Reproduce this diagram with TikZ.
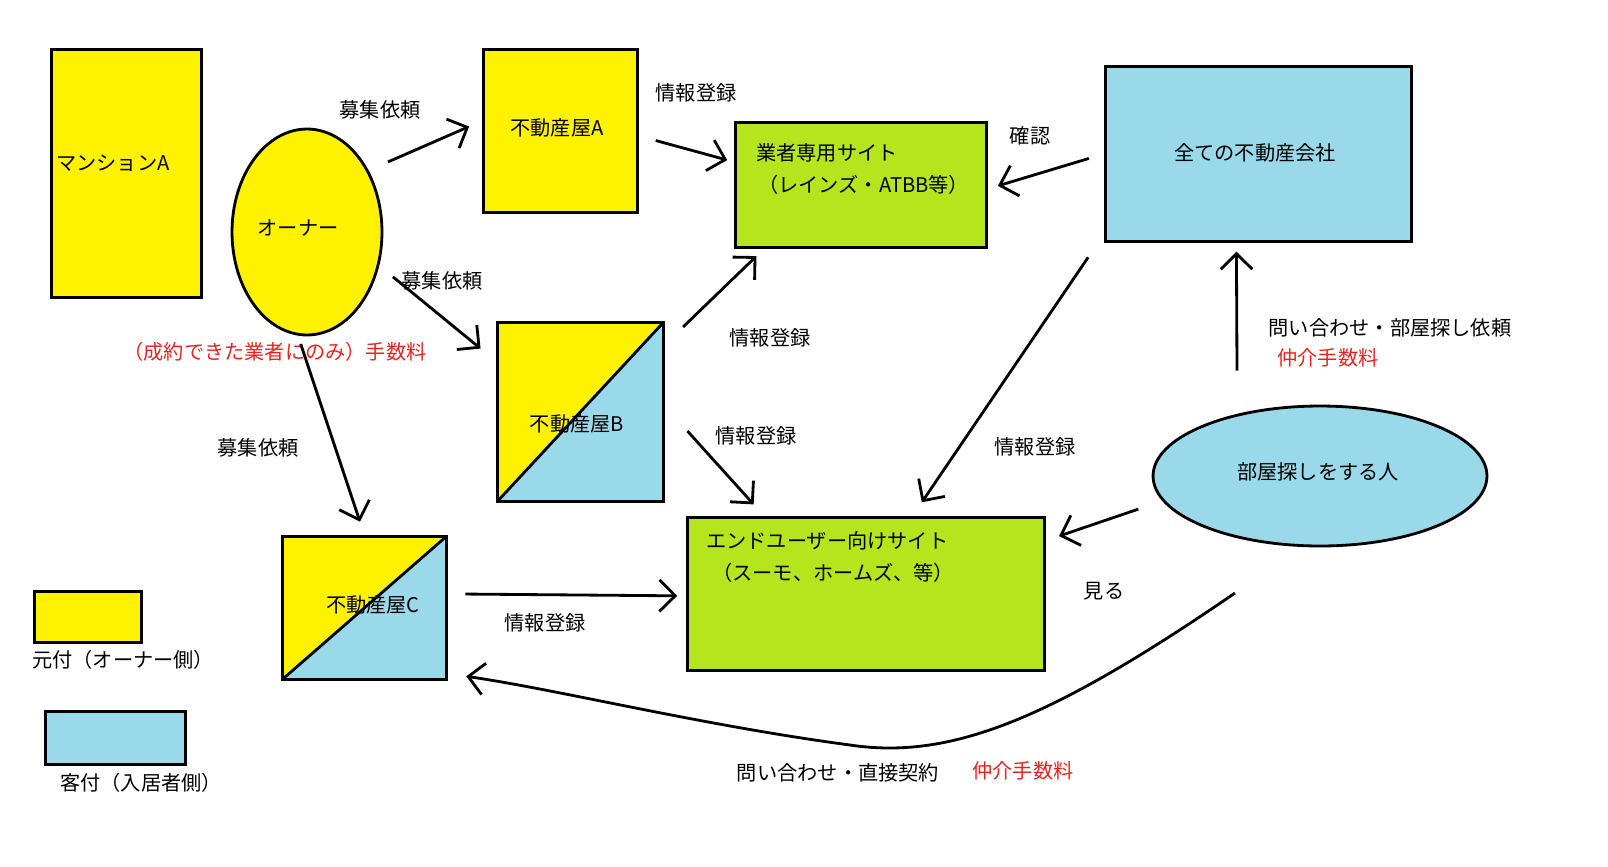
\documentclass[tikz,border=0pt]{standalone}
\usepackage{fontspec}
\setmainfont{Noto Sans CJK JP}
\usetikzlibrary{shapes.geometric, arrows.meta, positioning, calc}
\definecolor{ownyellow}{HTML}{FFF200}
\definecolor{cliblue}{HTML}{99D9EA}
\definecolor{sitegreen}{HTML}{B5E61D}
\definecolor{feered}{HTML}{E8231E}

\begin{document}
\begin{tikzpicture}[
  x=0.02cm, y=-0.02cm,
  every node/.style={font=\fontsize{11.5}{14}\selectfont},
  box/.style={
    rectangle,
    draw=black,
    line width=1.6pt,
    inner sep=0pt
  },
  dealer/.style={
    box,
    path picture={
      \fill[ownyellow] (path picture bounding box.north west) -- (path picture bounding box.north east) -- (path picture bounding box.south west) -- cycle;
      \fill[cliblue] (path picture bounding box.south east) -- (path picture bounding box.north east) -- (path picture bounding box.south west) -- cycle;
      \draw[line width=1.6pt] (path picture bounding box.south west) -- (path picture bounding box.north east);
    }
  },
  flow/.style={
    line width=1.6pt,
    -{Straight Barb[length=9pt,width=18pt,line width=1.6pt]}
  },
  fee/.style={text=feered}
]
  \useasboundingbox (0,0) rectangle (1608,866);

  % boxes
  \node[box, fill=ownyellow, minimum width=3cm, minimum height=4.96cm, anchor=north west] (mansion) at (50,48) {};
  \node[anchor=west] at (50,163) {マンションA};
  \node[box, ellipse, fill=ownyellow, minimum width=3cm, minimum height=4.12cm] (owner) at (307,232) {};
  \node at (298,228) {オーナー};
  \node[box, fill=ownyellow, minimum width=3.08cm, minimum height=3.26cm, anchor=north west] (agentA) at (482,48) {};
  \node at (557,128) {不動産屋A};
  \node[box, fill=sitegreen, minimum width=5.02cm, minimum height=2.5cm, anchor=north west] (pro) at (734,121) {};
  \node[anchor=west] at (750,153) {業者専用サイト};
  \node[anchor=west] at (752,185) {（レインズ・ATBB等）};
  \node[box, fill=cliblue, minimum width=6.12cm, minimum height=3.5cm, anchor=north west] (allco) at (1104,65) {};
  \node at (1255,153) {全ての不動産会社};
  \node[dealer, minimum width=3.32cm, minimum height=3.58cm, anchor=north west] (agentB) at (496,321) {};
  \node at (577,424) {不動産屋B};
  \node[dealer, minimum width=3.28cm, minimum height=2.86cm, anchor=north west] (agentC) at (281,535) {};
  \node at (373,605) {不動産屋C};
  \node[box, fill=sitegreen, minimum width=7.14cm, minimum height=3.06cm, anchor=north west] (enduser) at (686,516) {};
  \node[anchor=west] at (700,541) {エンドユーザー向けサイト};
  \node[anchor=west] at (706,573) {（スーモ、ホームズ、等）};
  \node[box, ellipse, fill=cliblue, minimum width=6.68cm, minimum height=2.8cm] (seeker) at (1320,476) {};
  \node at (1318,472) {部屋探しをする人};

  % legend
  \node[box, fill=ownyellow, minimum width=2.14cm, minimum height=1.02cm, anchor=north west] (lgown) at (33,590) {};
  \node[anchor=west] at (26,660) {元付（オーナー側）};
  \node[box, fill=cliblue, minimum width=2.8cm, minimum height=1.06cm, anchor=north west] (lgcli) at (44,710) {};
  \node[anchor=west] at (54,783) {客付（入居者側）};

  % connectors
  \draw[flow, shorten <=12pt, shorten >=8pt] (owner.45) -- ($(agentA.west)+(0,-10)$);
  \node at (380,110) {募集依頼};
  \draw[flow, shorten <=10pt, shorten >=4pt] ($(agentA.east)+(0,5)$) -- ($(pro.west)+(0,-23)$);
  \node at (696,93) {情報登録};
  \draw[flow, shorten <=9pt, shorten >=6pt] ($(allco.west)+(0,0)$) -- ($(pro.east)+(0,4)$);
  \node at (1030,136) {確認};
  \draw[flow, shorten <=10pt, shorten >=4pt] (owner.-25) -- ($(agentB.north west)+(-10,32)$);
  \node at (442,281) {募集依頼};
  \node[fee] at (275,352) {（成約できた業者にのみ）手数料};
  \draw[flow, shorten <=5pt, shorten >=6pt] ($(agentB.north east)+(12,12)$) -- ($(pro.south west)+(30,0)$);
  \node at (770,338) {情報登録};
  \draw[flow, shorten <=4pt, shorten >=2pt] ($(agentB.east)+(18,14)$) -- ($(enduser.north west)+(70,-9)$);
  \node at (756,436) {情報登録};
  \draw[flow, shorten <=10pt, shorten >=6pt] ($(allco.south west)+(-6,0)$) -- ($(enduser.north)+(50,-5)$);
  \node at (1035,447) {情報登録};
  \draw[flow, shorten <=5pt, shorten >=8pt] (owner.-95) -- (agentC.north);
  \node at (258,448) {募集依頼};
  \draw[flow, shorten <=10pt, shorten >=5pt] ($(agentC.east)+(0,-14)$) -- ($(enduser.west)+(0,2)$);
  \node at (545,623) {情報登録};
  \draw[flow, shorten >=5pt] ($(seeker.north)+(-83,-34)$) -- ($(allco.south)+(-22,0)$);
  \node at (1390,328) {問い合わせ・部屋探し依頼};
  \node[fee] at (1328,358) {仲介手数料};
  \coordinate (seekerw) at ($(seeker.west)+(-10,32)$);
  \draw[flow, shorten <=2pt, shorten >=5pt] (seekerw) -- ($(enduser.east)+(5,-55)$);
  \node at (1104,591) {見る};
  \coordinate (curvefrom) at (1235,593);
  \draw[flow, shorten >=6pt] (curvefrom) .. controls (1050,720) and (950,760) .. (850,745)
    .. controls (700,725) and (560,690) .. ($(agentC.south east)+(8,-6)$);
  \node at (838,773) {問い合わせ・直接契約};
  \node[fee] at (1023,771) {仲介手数料};
\end{tikzpicture}
\end{document}
